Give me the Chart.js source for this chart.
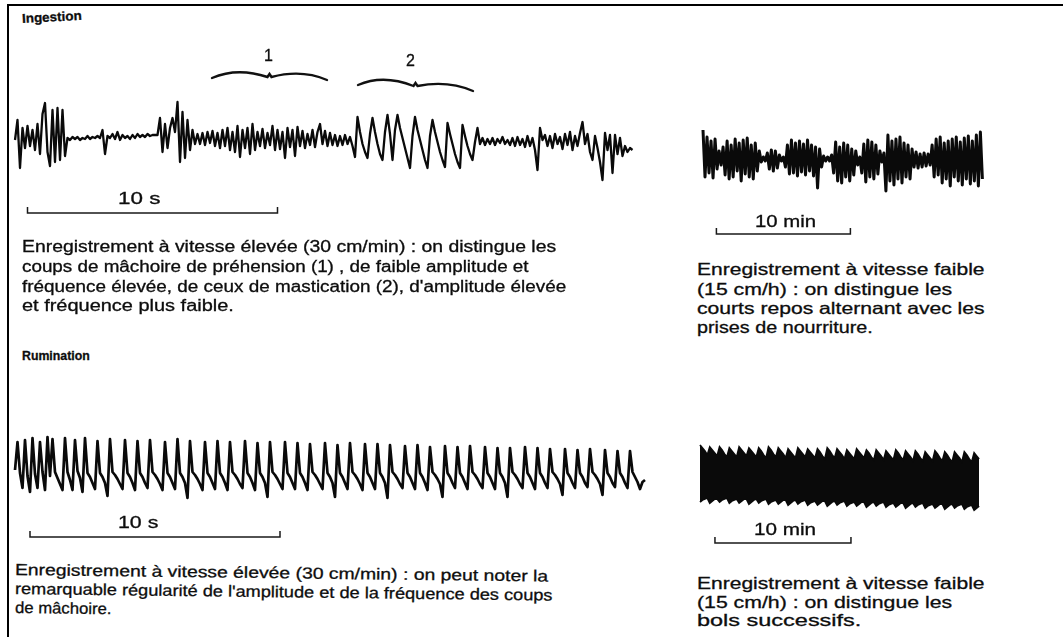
<!DOCTYPE html>
<html lang="fr">
<head>
<meta charset="utf-8">
<title>Ingestion et rumination</title>
<script src="https://cdn.jsdelivr.net/npm/chart.js"></script>
<style>
  body { margin: 0; background: #fff; width: 1063px; height: 637px; position: relative; overflow: hidden;
         font-family: "Liberation Sans", Arial, sans-serif; color: #0d0d0d; }
  .frame { position: absolute; left: 7px; top: 4px; width: 1060px; height: 640px;
           border-top: 2.5px solid #000; border-left: 2.5px solid #000; }
  .t { position: absolute; white-space: nowrap; line-height: 1; transform-origin: 0 50%;
       -webkit-text-stroke: 0.3px #0d0d0d; }
</style>
</head>
<body>
<div class="frame"></div>
<script>
// enregistrement rapide, ingestion (pas 0.1 s)
const ingestFast = [
  0, 20, -28, 12, -8, 14, -6, 10, -10, 16,
  -14, 26, 37, -12, -26, 30, -22, 32, -20, 30,
  -16, 2, 0, 3, 1, 3, 0, 2, 1, 4,
  1, 3, 2, 4, 2, 10, -14, 4, 2, 6,
  1, 8, 0, 5, 2, 4, 1, 5, 2, 6,
  3, 5, 3, 6, 4, 5, 5, 5, 22, -12,
  16, -8, 12, 22, 8, 38, -22, 28, -18, 20,
  -10, 10, -4, 6, -4, 7, -5, 8, -3, 9,
  -6, 7, -8, 10, -6, 12, -10, 8, -12, 14,
  -17, 10, -8, 12, -14, 16, -10, 8, -6, 11,
  -8, 7, -5, 14, -10, 10, -9, 8, -18, 12,
  -7, 10, -16, 13, -6, 9, -8, 6, -5, 10,
  -7, 8, 16, -4, 9, -6, 7, -5, 5, -6,
  4, -5, 5, -4, 3, -6, -17, 23, 8, -4,
  -12, -18, 6, 22, 8, -4, -14, -20, 8, 25,
  6, -20, 10, 25, 12, 2, -8, -18, -28, 4,
  23, 10, 0, -10, -20, -28, 4, 20, 8, -2,
  -12, -20, -27, 17, 6, -4, -14, -22, -28, 15,
  4, -6, -14, -20, -2, 12, -4, 2, -5, 1,
  -4, 2, -5, 1, -3, 3, -4, 0, -5, 2,
  -6, 3, -5, 1, -7, 4, -6, 2, -10, -30,
  12, 0, 5, -6, 4, -8, 6, -4, 3, -9,
  6, -5, 8, -10, 4, -6, 7, 18, -4, 6,
  -12, -20, 4, -8, -22, -40, 7, -10, 5, -33,
  5, -14, 2, -16, -6, -12, -8, -10
];

// enregistrement lent, ingestion (pas 0.15 min)
const ingestSlow = [
  29, -18, 22, -14, 18, -19, 20, -10, 8, -6,
  12, -16, 18, -20, 14, -18, 20, -12, 16, -22,
  19, -15, 21, -18, 14, -20, 16, -12, 8, -3,
  2, -2, 6, -10, 9, -12, 8, -9, 4, -2,
  2, -8, 14, -15, 19, -14, 16, -17, 18, -13,
  15, -16, 19, -12, 14, -17, 12, -29, 10, -8,
  3, -2, 2, -2, 4, -14, 17, -22, 12, -24,
  16, -18, 14, -22, 10, -16, 8, -6, 2, -14,
  15, -23, 19, -18, 17, -20, 14, -15, 8, -3,
  6, -32, 24, -22, 18, -26, 20, -20, 22, -24,
  16, -18, 14, -20, 10, -8, 7, -9, 5, -8,
  6, -7, 5, -6, 14, -18, 20, -16, 22, -24,
  16, -20, 18, -27, 20, -18, 22, -22, 17, -26,
  21, -20, 23, -25, 18, -22, 24, -27, 27, -20
];

// enregistrement rapide, rumination (pas 0.1 s)
const rumiFast = [
  -2, 26, -5, -20, 28, -8, -24, 30, -6, -20, 26, -4, -22, 31, -8, 29, -4, -10, -16, -22, 30, -4, -12, -22, 28, -3, -10, -24,
  30, -5, -9, -15, -21,
  27, -5, -9, -15, -28,
  29, -4, -7, -11, -16, -21,
  28, -5, -9, -15, -22,
  27, -5, -9, -15, -20,
  28, -4, -7, -11, -16, -22,
  26, -5, -9, -15, -21,
  29, -5, -9, -15, -30,
  27, -4, -7, -11, -16, -22,
  26, -5, -9, -15, -21,
  27, -5, -9, -15, -22,
  26, -4, -7, -11, -16, -20,
  27, -5, -9, -15, -22,
  25, -5, -9, -15, -29,
  26, -4, -7, -11, -16, -21,
  26, -5, -9, -15, -21,
  25, -5, -9, -15, -22,
  24, -4, -7, -11, -16, -21,
  25, -5, -9, -15, -29,
  23, -5, -9, -15, -21,
  25, -4, -7, -11, -16, -22,
  24, -5, -9, -15, -21,
  24, -5, -9, -15, -30,
  23, -4, -7, -11, -16, -20,
  22, -5, -9, -15, -21,
  23, -5, -9, -15, -22,
  21, -4, -7, -11, -16, -29,
  22, -5, -9, -15, -20,
  21, -5, -9, -15, -21,
  22, -4, -7, -11, -16, -20,
  21, -5, -9, -15, -21,
  20, -5, -9, -15, -29,
  20, -4, -7, -11, -16, -20,
  21, -5, -9, -15, -21,
  20, -5, -9, -15, -20,
  19, -4, -7, -11, -16, -27,
  19, -5, -9, -15, -20,
  18, -5, -9, -15, -19,
  19, -4, -7, -11, -16, -27,
  18, -5, -9, -15, -19,
  17, -5, -9, -15, -20,
  17, -4, -9, -14, -21, -14, -12
];

// enregistrement lent, rumination : bords haut et bas (pas 0.18 min)
const rumiSlowTop = [
  30, 27, 24, 20, 28, 25, 22, 19, 28, 25, 21, 18, 27, 24, 21, 18,
  28, 25, 22, 19, 27, 24, 21, 18, 27, 24, 20, 17, 28, 25, 21, 18,
  27, 24, 21, 17, 26, 23, 20, 17, 27, 24, 21, 18, 26, 23, 20, 17,
  26, 23, 19, 16, 27, 24, 20, 17, 26, 23, 20, 16, 25, 22, 19, 16,
  26, 23, 20, 17, 25, 22, 18, 15, 25, 22, 19, 15, 24, 21, 18, 15,
  25, 22, 18, 15, 24, 21, 18, 14, 24, 21, 17, 14, 23, 20, 17, 14,
  24, 21, 17, 14, 23, 20, 16, 13, 23, 20, 17, 13, 23, 20, 16, 13,
  22, 19, 16
];
const rumiSlowBottom = [
  -27, -25, -24, -23, -28, -26, -24, -24, -27, -25, -24, -23, -28, -26, -25, -24,
  -28, -26, -24, -24, -29, -27, -25, -24, -28, -26, -25, -24, -29, -27, -26, -25,
  -29, -27, -25, -25, -30, -28, -26, -25, -29, -27, -26, -25, -30, -28, -27, -26,
  -30, -28, -26, -26, -31, -29, -27, -26, -30, -28, -27, -26, -31, -29, -28, -27,
  -31, -29, -27, -27, -32, -30, -28, -27, -31, -29, -28, -27, -32, -30, -29, -28,
  -32, -30, -28, -28, -33, -31, -29, -28, -32, -30, -29, -28, -33, -31, -30, -29,
  -33, -31, -29, -29, -34, -32, -30, -29, -33, -31, -30, -29, -34, -32, -31, -30,
  -35, -33, -31
];

// barres d'échelle [début, fin] et accolades (secondes / minutes)
const barFastIngest = [0.5, 10.5];
const barFastRumi = [0.6, 10.6];
const barSlowIngest = [1, 11];
const barSlowRumi = [1.1, 11.1];
const braceFrom = [7.88, 13.72];
const braceTo = [12.48, 18.32];
const braceLabels = ["1", "2"];

const toPoints = (vals, step) => vals.map((v, i) => ({ x: i * step, y: v }));

const trace = (vals, step, w) => ({
  data: toPoints(vals, step),
  borderColor: "#0a0a0a",
  borderWidth: w,
  borderJoinStyle: "round",
  fill: false,
});

const bar = (range, yBar) => ({
  data: [
    { x: range[0], y: yBar + 6 },
    { x: range[0], y: yBar },
    { x: range[1], y: yBar },
    { x: range[1], y: yBar + 6 },
  ],
  borderColor: "#1a1a1a",
  borderWidth: 1.5,
  fill: false,
});

// accolades 1 et 2 au-dessus du tracé d'ingestion
const bracePlugin = {
  id: "braces",
  afterDatasetsDraw(chart) {
    const { ctx } = chart;
    const xs = chart.scales.x, ys = chart.scales.y;
    const level = [67, 60];
    const tilt = [2, 6];
    ctx.save();
    ctx.strokeStyle = "#111";
    ctx.lineWidth = 2.4;
    ctx.lineCap = "round";
    braceFrom.forEach((t, i) => {
      const x1 = xs.getPixelForValue(t);
      const x2 = xs.getPixelForValue(braceTo[i]);
      const y = ys.getPixelForValue(level[i]);
      const w = x2 - x1, m = (x1 + x2) / 2, d = tilt[i];
      ctx.beginPath();
      ctx.moveTo(x1, y + 5);
      ctx.quadraticCurveTo(x1 + w * 0.22, y - 6, m - 2, y + 3 + d / 2);
      ctx.lineTo(m, y + d / 2);
      ctx.lineTo(m + 2, y + 3 + d / 2);
      ctx.quadraticCurveTo(x2 - w * 0.22, y - 6 + d, x2, y + 5 + d);
      ctx.stroke();
    });
    ctx.restore();
  },
};

// box : position de la zone (px) ; x0 / base = position de t=0 et v=0 ; ppu = px par unité
function buildChart(box, datasets, plugins) {
  const cv = document.createElement("canvas");
  cv.width = box.w;
  cv.height = box.h;
  cv.style.cssText = `position:absolute;left:${box.left}px;top:${box.top}px`;
  document.body.appendChild(cv);
  const xMin = -(box.x0 - box.left) / box.ppu;
  const yMax = box.base - box.top;
  return new Chart(cv, {
    type: "line",
    data: { datasets },
    options: {
      responsive: false,
      animation: false,
      events: [],
      layout: { padding: 0 },
      elements: { point: { radius: 0 }, line: { tension: 0 } },
      scales: {
        x: { type: "linear", display: false, min: xMin, max: xMin + box.w / box.ppu },
        y: { type: "linear", display: false, min: yMax - box.h, max: yMax },
      },
      plugins: { legend: { display: false }, tooltip: { enabled: false } },
    },
    plugins: plugins || [],
  });
}

buildChart({ left: 0, top: 40, w: 660, h: 200, x0: 15, base: 140, ppu: 25 },
  [trace(ingestFast, 0.1, 2.3), bar(barFastIngest, -73)], [bracePlugin]);

buildChart({ left: 680, top: 100, w: 340, h: 150, x0: 703, base: 159, ppu: 13.4 },
  [trace(ingestSlow, 0.15, 3), bar(barSlowIngest, -75)]);

buildChart({ left: 0, top: 400, w: 660, h: 160, x0: 15, base: 468, ppu: 25 },
  [trace(rumiFast, 0.1, 2.7), bar(barFastRumi, -69)]);

buildChart({ left: 680, top: 420, w: 340, h: 140, x0: 700, base: 475, ppu: 13.6 },
  [
    { data: toPoints(rumiSlowTop, 0.18), borderColor: "#0a0a0a", borderWidth: 1.8, backgroundColor: "#0a0a0a", fill: "+1" },
    { data: toPoints(rumiSlowBottom, 0.18), borderColor: "#0a0a0a", borderWidth: 1.8, fill: false },
    bar(barSlowRumi, -68),
  ]);

// textes
function addText(txt, x, cy, w, size, bold, rot) {
  const d = document.createElement("div");
  d.className = "t";
  d.textContent = txt;
  d.style.left = x + "px";
  d.style.top = cy - size * 0.55 + "px";
  d.style.fontSize = size + "px";
  if (bold) d.style.fontWeight = "bold";
  document.body.appendChild(d);
  const sx = w ? w / d.offsetWidth : 1;
  d.style.transform = `rotate(${rot || 0}deg) scaleX(${sx})`;
}

addText("Ingestion", 22, 19, 60, 13, true, -3);
addText("Rumination", 22, 357, 68, 12.5, true);

addText(braceLabels[0], 264, 57, 0, 16);
addText(braceLabels[1], 406, 62, 0, 16);

addText("10 s", 118, 200, 42, 16);
addText("10 s", 118, 524, 40, 16);
addText("10 min", 755, 223, 61, 16);
addText("10 min", 754, 531, 62, 16);

addText("Enregistrement à vitesse élevée (30 cm/min) : on distingue les", 22, 248, 534, 16);
addText("coups de mâchoire de préhension (1) , de faible amplitude et", 22, 268, 506, 16);
addText("fréquence élevée, de ceux de mastication (2), d'amplitude élevée", 22, 288, 544, 16);
addText("et fréquence plus faible.", 22, 307, 212, 16);

addText("Enregistrement à vitesse faible", 697, 270, 288, 16.5);
addText("(15 cm/h) : on distingue les", 697, 290, 255, 16.5);
addText("courts repos alternant avec les", 697, 309, 288, 16.5);
addText("prises de nourriture.", 697, 328, 176, 16.5);

addText("Enregistrement à vitesse élevée (30 cm/min) : on peut noter la", 15, 571, 533, 16, false, 0.7);
addText("remarquable régularité de l'amplitude et de la fréquence des coups", 15, 590, 538, 16, false, 0.7);
addText("de mâchoire.", 15, 609, 97, 16, false, 0.7);

addText("Enregistrement à vitesse faible", 697, 584, 288, 16.5);
addText("(15 cm/h) : on distingue les", 697, 603, 255, 16.5);
addText("bols successifs.", 697, 621, 165, 16.5);
</script>
</body>
</html>
